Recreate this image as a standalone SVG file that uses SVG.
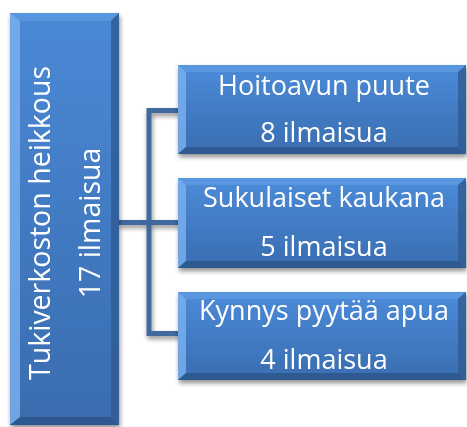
<svg xmlns="http://www.w3.org/2000/svg" width="467" height="427" viewBox="0 0 467 427">
  <defs>
    <linearGradient id="face" x1="0" y1="0" x2="0" y2="1">
      <stop offset="0" stop-color="#4b8bd9"/>
      <stop offset="1" stop-color="#3a6db0"/>
    </linearGradient>
    <linearGradient id="faceTall" x1="0" y1="0" x2="0" y2="1">
      <stop offset="0" stop-color="#4a89d6"/>
      <stop offset="1" stop-color="#3a6cae"/>
    </linearGradient>
    <filter id="shadow" x="-10%" y="-10%" width="130%" height="130%">
      <feGaussianBlur in="SourceAlpha" stdDeviation="2.5"/>
      <feOffset dx="1" dy="3" result="b"/>
      <feComponentTransfer><feFuncA type="linear" slope="0.45"/></feComponentTransfer>
      <feMerge><feMergeNode/><feMergeNode in="SourceGraphic"/></feMerge>
    </filter>
  </defs>
  <style>
    .top { fill: #5f9be2; }
    .left { fill: #7db2f0; }
    .right { fill: #2f5b93; }
    .bottom { fill: #2c5589; }
    .label { font-family: "Open Sans", "Noto Sans", sans-serif; fill: #ffffff; text-anchor: middle; }
    .wire { fill: none; stroke: #41699e; stroke-width: 5; }
  </style>

  <g id="connectors" filter="url(#shadow)">
    <path class="wire" d="M118 222.5 H180"/>
    <path class="wire" d="M180 110.5 H149 V333.5 H180"/>
  </g>

  <!-- root: tall bevelled box with rotated labels -->
  <g id="root" filter="url(#shadow)">
    <rect x="10" y="13" width="109" height="412" fill="url(#faceTall)"/>
    <polygon class="top" points="10,13 119,13 111,21 20,21" opacity="0.7"/>
    <polygon class="left" points="10,13 20,21 20,417 10,425" opacity="0.8"/>
    <polygon class="right" points="119,13 119,425 111,417 111,21" opacity="0.8"/>
    <polygon class="bottom" points="10,425 119,425 111,417 20,417" opacity="0.8"/>
    <text class="label" font-size="28.5" transform="translate(50 223) rotate(-90)">Tukiverkoston heikkous</text>
    <text class="label" font-size="28.5" transform="translate(100 223) rotate(-90)">17 ilmaisua</text>
  </g>

  <g id="hoitoavun" filter="url(#shadow)">
    <rect x="178" y="65" width="288" height="89" fill="url(#face)"/>
    <polygon class="top" points="178,65 466,65 458,72 186,72" opacity="0.7"/>
    <polygon class="left" points="178,65 186,72 186,147 178,154" opacity="0.8"/>
    <polygon class="right" points="466,65 466,154 458,147 458,72" opacity="0.8"/>
    <polygon class="bottom" points="178,154 466,154 458,147 186,147" opacity="0.8"/>
    <text class="label" font-size="27" x="324" y="95">Hoitoavun puute</text>
    <text class="label" font-size="27" x="324" y="142">8 ilmaisua</text>
  </g>

  <g id="sukulaiset" filter="url(#shadow)">
    <rect x="178" y="178" width="288" height="90" fill="url(#face)"/>
    <polygon class="top" points="178,178 466,178 458,185 186,185" opacity="0.7"/>
    <polygon class="left" points="178,178 186,185 186,261 178,268" opacity="0.8"/>
    <polygon class="right" points="466,178 466,268 458,261 458,185" opacity="0.8"/>
    <polygon class="bottom" points="178,268 466,268 458,261 186,261" opacity="0.8"/>
    <text class="label" font-size="27" x="324" y="207">Sukulaiset kaukana</text>
    <text class="label" font-size="27" x="324" y="256">5 ilmaisua</text>
  </g>

  <g id="kynnys" filter="url(#shadow)">
    <rect x="178" y="292" width="288" height="88" fill="url(#face)"/>
    <polygon class="top" points="178,292 466,292 458,299 186,299" opacity="0.7"/>
    <polygon class="left" points="178,292 186,299 186,373 178,380" opacity="0.8"/>
    <polygon class="right" points="466,292 466,380 458,373 458,299" opacity="0.8"/>
    <polygon class="bottom" points="178,380 466,380 458,373 186,373" opacity="0.8"/>
    <text class="label" font-size="27" x="324" y="320">Kynnys pyytää apua</text>
    <text class="label" font-size="27" x="324" y="369">4 ilmaisua</text>
  </g>
</svg>
